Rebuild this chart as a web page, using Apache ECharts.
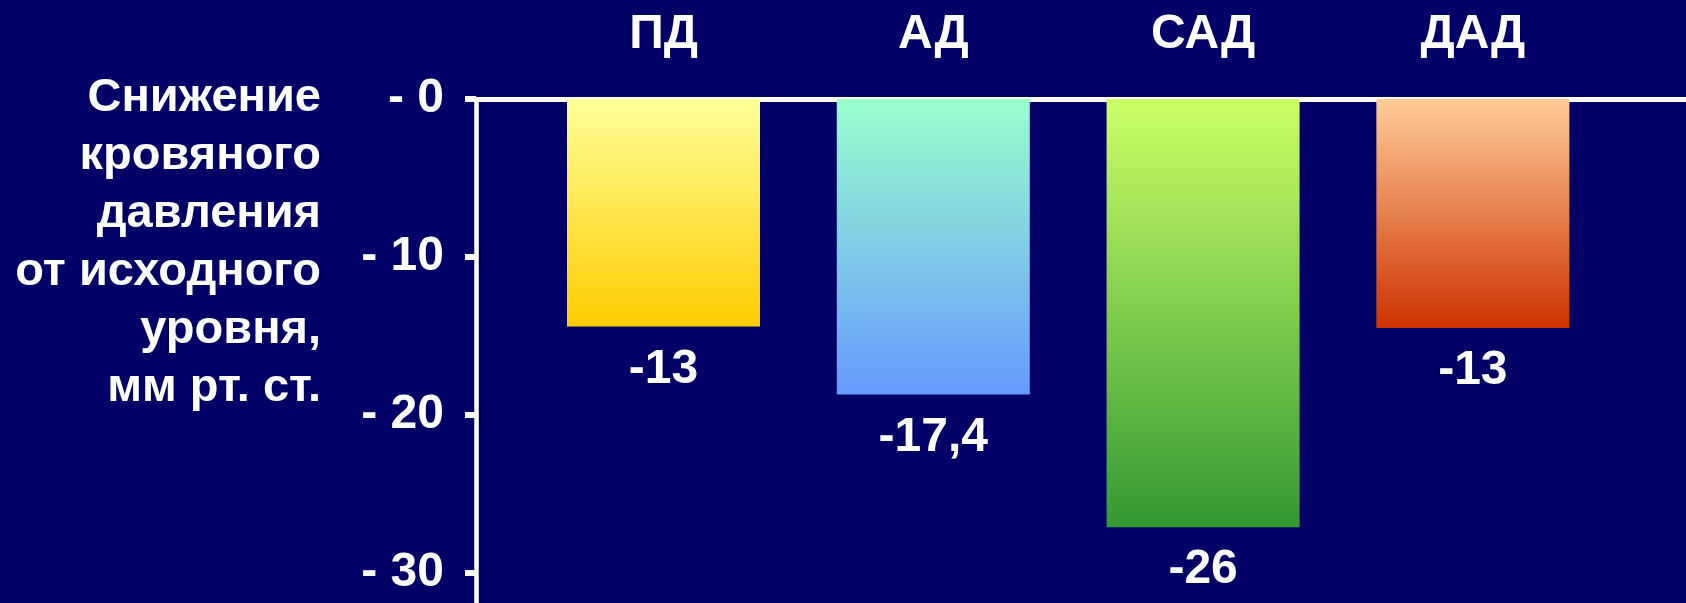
<!DOCTYPE html>
<html>
<head>
<meta charset="utf-8">
<script src="https://cdn.jsdelivr.net/npm/echarts@6/dist/echarts.min.js"></script>
<style>
  html, body { margin: 0; padding: 0; background: #000066; }
  #chart { width: 1686px; height: 603px; }
</style>
</head>
<body>
<div id="chart"></div>
<script>
// Data
const categories = ['ПД', 'АД', 'САД', 'ДАД'];
const positions = [1, 2, 3, 4];
const values = [-14.4, -18.7, -27.1, -14.5];
const valueLabels = ['-13', '-17,4', '-26', '-13'];
const yTicks = [0, -10, -20, -30];
const titleLines = ['Снижение', 'кровяного', 'давления', 'от исходного', 'уровня,', 'мм рт. ст.'];
const gradients = [
  ['#FFFF99', '#FFCC00'],
  ['#99FFCC', '#6699FF'],
  ['#CCFF66', '#339933'],
  ['#FFCC99', '#CC3300']
];

const FONT = '"Liberation Sans", Arial, sans-serif';
const chart = echarts.init(document.getElementById('chart'), null, { renderer: 'canvas' });

const seriesData = values.map((v, i) => ({
  value: [positions[i], v],
  itemStyle: {
    color: {
      type: 'linear', x: 0, y: 0, x2: 0, y2: 1,
      colorStops: [
        { offset: 0, color: gradients[i][0] },
        { offset: 1, color: gradients[i][1] }
      ]
    }
  }
}));

chart.setOption({
  backgroundColor: '#000066',
  animation: false,
  graphic: [{
    type: 'text',
    x: 321,
    y: 69,
    style: {
      text: titleLines.join('\n'),
      align: 'right',
      verticalAlign: 'top',
      fill: '#ffffff',
      fontFamily: FONT,
      fontWeight: 'bold',
      fontSize: 47,
      lineHeight: 58
    }
  }],
  grid: { left: 476, right: 0, top: 99, bottom: 0, containLabel: false },
  xAxis: {
    type: 'value',
    position: 'top',
    min: 0.305,
    max: 4.79,
    splitLine: { show: false },
    axisLine: { show: true, onZero: false, lineStyle: { color: '#ffffff', width: 5 } },
    axisTick: { show: false },
    axisLabel: {
      show: true,
      customValues: positions,
      margin: 40,
      color: '#ffffff',
      fontFamily: FONT,
      fontWeight: 'bold',
      fontSize: 48,
      formatter: (v) => categories[positions.indexOf(v)] || ''
    }
  },
  yAxis: {
    type: 'value',
    min: -31.9,
    max: 0,
    splitLine: { show: false },
    axisLine: { show: true, lineStyle: { color: '#ffffff', width: 4.5 } },
    axisTick: { show: true, length: 11, customValues: yTicks, lineStyle: { color: '#ffffff', width: 6 } },
    axisLabel: {
      customValues: yTicks,
      margin: 32,
      color: '#ffffff',
      fontFamily: FONT,
      fontWeight: 'bold',
      fontSize: 48,
      padding: [0, 0, 6, 0],
      formatter: (v) => '- ' + Math.abs(v)
    }
  },
  series: [{
    type: 'bar',
    barWidth: 193,
    data: seriesData,
    label: {
      show: true,
      position: 'bottom',
      distance: 19,
      color: '#ffffff',
      fontFamily: FONT,
      fontWeight: 'bold',
      fontSize: 48,
      formatter: (p) => valueLabels[p.dataIndex]
    }
  }]
});
</script>
</body>
</html>
